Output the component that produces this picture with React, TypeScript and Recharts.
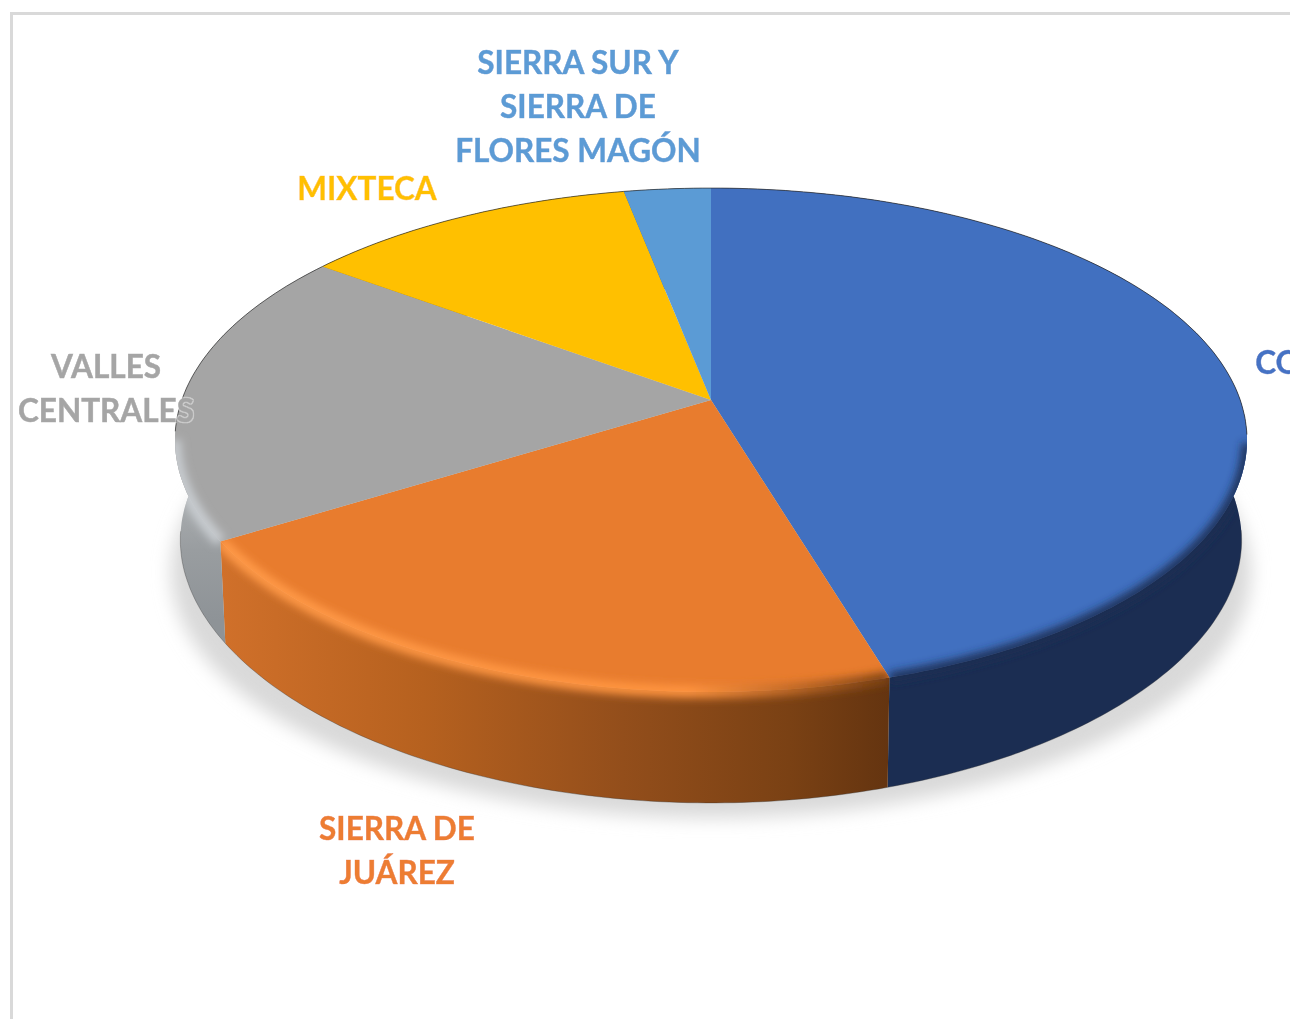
import { Pie, PieChart } from "recharts";

const regions = ["COSTA", "SIERRA DE JUÁREZ", "VALLES CENTRALES", "MIXTECA", "SIERRA SUR Y SIERRA DE FLORES MAGÓN"];
const shares = [44.6, 23.8, 18.7, 10.3, 2.6];
const labelLines = [["COSTA"], ["SIERRA DE", "JUÁREZ"], ["VALLES", "CENTRALES"], ["MIXTECA"], ["SIERRA SUR Y", "SIERRA DE", "FLORES MAGÓN"]];

const topColors = ["#4170c0", "#e87c2e", "#a5a5a5", "#ffc000", "#5b9bd5"];
const wallColors = ["#1b2d52", "url(#wallOrange)", "url(#wallGrey)", "#b08600", "#3f6d96"];
const edgeColors = ["#1b2d52", "url(#edgeOrange)", "#c8ccd0", "none", "none"];
const labelColors = ["#4472c4", "#ed7d31", "#a5a5a5", "#ffc000", "#5b9bd5"];
const labelSpots = [
  { x: 1306, y: 374 },
  { x: 397, y: 840 },
  { x: 106, y: 378 },
  { x: 367, y: 200 },
  { x: 578, y: 74 },
];

const data = regions.map((name, i) => ({ name, value: shares[i] }));
const wholePie = [{ name: "all", value: shares.reduce((a, b) => a + b, 0) }];

const CX = 711;
const CY = 440;
const RX = 536;
const FLATTEN = 0.47; // ry / rx of the tilted disc
const APEX_Y = 400; // perspective moves the centre of the pie above the ellipse centre

const rad = (deg: number) => (deg * Math.PI) / 180;

// walk the rim in whole degrees, angles as Recharts hands them out
function rimPoints(p: any, fn: (deg: number) => [number, number]) {
  const pts: [number, number][] = [];
  const n = Math.max(2, Math.ceil(Math.abs(p.startAngle - p.endAngle)));
  for (let i = 0; i <= n; i++) {
    pts.push(fn(p.startAngle + ((p.endAngle - p.startAngle) * i) / n));
  }
  return pts;
}

const topRim = (p: any) => (deg: number): [number, number] => [
  p.cx + p.outerRadius * Math.cos(rad(deg)),
  p.cy - p.outerRadius * FLATTEN * Math.sin(rad(deg)),
];

const bottomRim = (p: any) => (deg: number): [number, number] => {
  const front = Math.max(0, -Math.sin(rad(deg)));
  return [
    p.cx + p.outerRadius * 0.99 * Math.cos(rad(deg)),
    p.cy - p.outerRadius * FLATTEN * Math.sin(rad(deg)) + 100 + 11 * front * front,
  ];
};

const toPath = (pts: [number, number][]) => pts.map((q, i) => `${i ? "L" : "M"}${q[0].toFixed(1)} ${q[1].toFixed(1)}`).join(" ");

const Shadow = (p: any) => (
  <ellipse cx={p.cx} cy={p.cy + 132} rx={p.outerRadius + 4} ry={246} fill="#d9d9d9" filter="url(#soft9)" />
);

const Wall = (p: any) => {
  const top = rimPoints(p, topRim(p));
  const bottom = rimPoints(p, bottomRim(p));
  return (
    <g>
      <path d={toPath([...top, ...[...bottom].reverse()]) + " Z"} fill={wallColors[p.index]} />
      <path d={toPath(bottom.filter((q) => q[1] > p.cy + 90))} fill="none" stroke="#333" strokeOpacity={0.35} strokeWidth={1} />
    </g>
  );
};

const Top = (p: any) => {
  const rim = rimPoints(p, topRim(p));
  return (
    <g>
      <path d={`M${p.cx} ${APEX_Y} ${toPath(rim).replace("M", "L")} Z`} fill={topColors[p.index]} />
      <path d={toPath(rim.filter((q) => q[1] < p.cy - 5))} fill="none" stroke="#2b2b2b" strokeOpacity={0.7} strokeWidth={1} />
    </g>
  );
};

// soft band where the top surface rolls into the wall
const Edge = (p: any) => {
  if (edgeColors[p.index] === "none") return <g />;
  const rim = rimPoints(p, topRim(p));
  const low = rimPoints(p, bottomRim(p)).reverse();
  const clipId = `edge-clip-${p.index}`;
  return (
    <g>
      <clipPath id={clipId}>
        <path d={`M${p.cx} ${APEX_Y} ${toPath(rim).replace("M", "L")} Z`} />
        <path d={toPath([...rim, ...low]) + " Z"} />
      </clipPath>
      <g clipPath={`url(#${clipId})`}>
        <path
          d={toPath(rim.filter((q) => q[1] > p.cy))}
          fill="none"
          stroke={edgeColors[p.index]}
          strokeWidth={p.index === 0 ? 10 : 12}
          filter="url(#soft4)"
        />
      </g>
    </g>
  );
};

// labels as the last layer; the pale halo keeps the S of CENTRALES readable over the grey slice
const LabelShape = (p: any) => {
  const spot = labelSpots[p.index];
  return (
    <text
      textAnchor="middle"
      fill={labelColors[p.index]}
      stroke={labelColors[p.index]}
      strokeWidth={0.5}
      fontFamily="Lato, 'Open Sans', sans-serif"
      fontWeight={700}
      fontSize={31.5}
      filter="url(#halo)"
    >
      {labelLines[p.index].map((line, i) => (
        <tspan key={line} x={spot.x} y={spot.y + i * 44}>
          {line}
        </tspan>
      ))}
    </text>
  );
};

const pieProps = {
  dataKey: "value",
  cx: CX,
  cy: CY,
  innerRadius: 0,
  outerRadius: RX,
  startAngle: 90,
  endAngle: -270,
  stroke: "none",
  isAnimationActive: false,
};

export default function App() {
  return (
    <div style={{ position: "absolute", left: 0, top: 0, width: 1290, height: 1019, overflow: "hidden", background: "#fff" }}>
      <div
        style={{
          position: "absolute",
          left: 10,
          top: 12,
          width: 1400,
          height: 1100,
          borderLeft: "3px solid #d9d9d9",
          borderTop: "3px solid #d9d9d9",
        }}
      />
      <div style={{ position: "absolute", left: 0, top: 0 }}>
        <PieChart width={1290} height={1019} margin={{ top: 0, right: 0, bottom: 0, left: 0 }}>
          <defs>
            <filter id="soft9" filterUnits="userSpaceOnUse" x="0" y="0" width="1290" height="1019">
              <feGaussianBlur stdDeviation="9" />
            </filter>
            <filter id="soft4" filterUnits="userSpaceOnUse" x="0" y="0" width="1290" height="1019">
              <feGaussianBlur stdDeviation="4" />
            </filter>
            <filter id="halo" filterUnits="userSpaceOnUse" x="0" y="0" width="1400" height="1019">
              <feMorphology in="SourceAlpha" operator="dilate" radius="1.2" result="grown" />
              <feFlood floodColor="#ffffff" floodOpacity="0.45" />
              <feComposite in2="grown" operator="in" result="pale" />
              <feMerge>
                <feMergeNode in="pale" />
                <feMergeNode in="SourceGraphic" />
              </feMerge>
            </filter>
            <linearGradient id="wallOrange" gradientUnits="userSpaceOnUse" x1="222" y1="0" x2="890" y2="0">
              <stop offset="0" stopColor="#d0702a" />
              <stop offset="0.3" stopColor="#b6611f" />
              <stop offset="0.6" stopColor="#934e1b" />
              <stop offset="0.85" stopColor="#7a4114" />
              <stop offset="1" stopColor="#643410" />
            </linearGradient>
            <linearGradient id="wallGrey" gradientUnits="userSpaceOnUse" x1="0" y1="480" x2="0" y2="620">
              <stop offset="0" stopColor="#b0b3b5" />
              <stop offset="0.5" stopColor="#999da0" />
              <stop offset="1" stopColor="#8e9397" />
            </linearGradient>
            <linearGradient id="edgeOrange" gradientUnits="userSpaceOnUse" x1="222" y1="0" x2="890" y2="0">
              <stop offset="0" stopColor="#ff9a48" />
              <stop offset="0.7" stopColor="#ff9440" />
              <stop offset="0.85" stopColor="#c06a28" />
              <stop offset="1" stopColor="#7a4114" />
            </linearGradient>
          </defs>
          <Pie {...pieProps} data={wholePie} shape={Shadow} />
          <Pie {...pieProps} data={data} shape={Wall} />
          <Pie {...pieProps} data={data} shape={Top} />
          <Pie {...pieProps} data={data} shape={Edge} />
          <Pie {...pieProps} data={data} shape={LabelShape} />
        </PieChart>
      </div>
    </div>
  );
}
